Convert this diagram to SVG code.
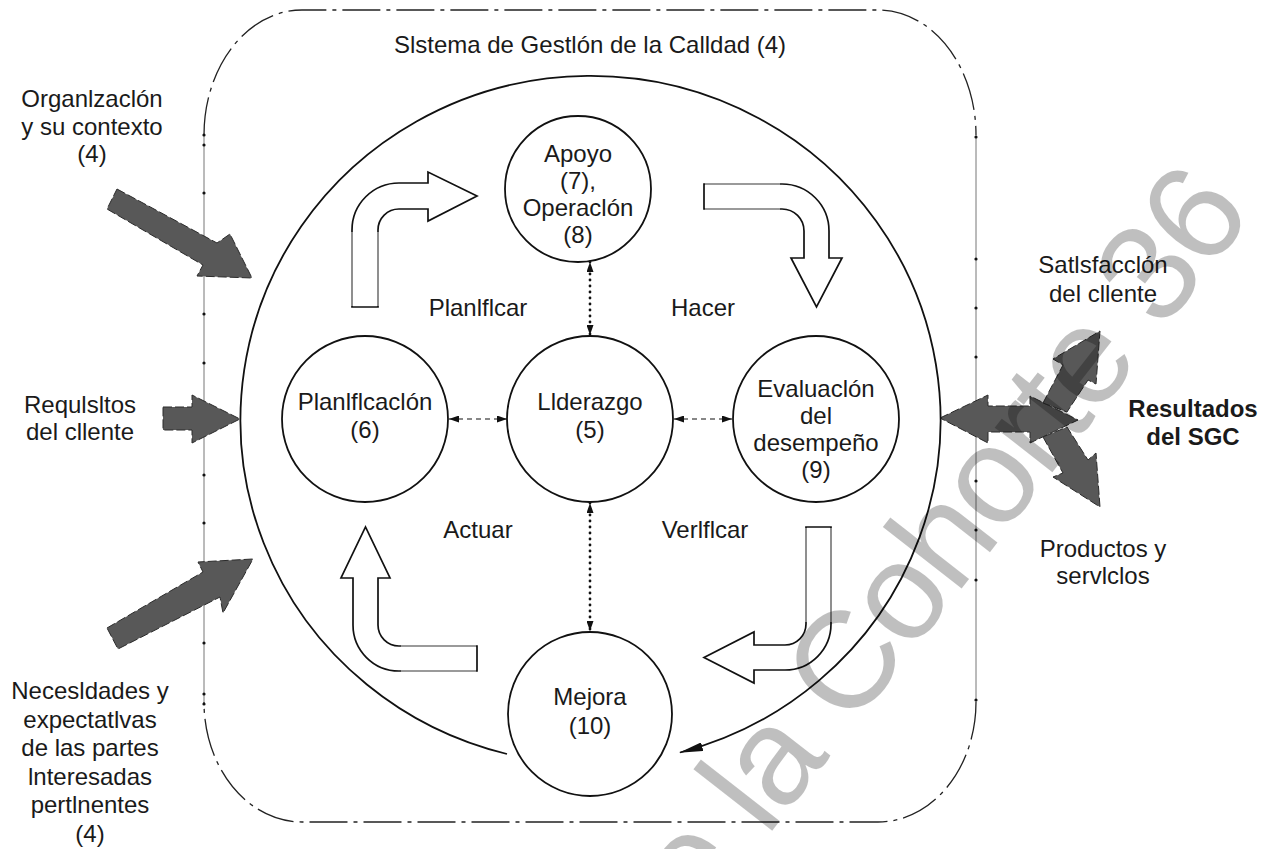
<svg xmlns="http://www.w3.org/2000/svg" width="1275" height="849" viewBox="0 0 1275 849">
<defs>
<style>
.t{font-family:"Liberation Sans",Arial,sans-serif;font-size:24px;fill:#1a1a1a;text-anchor:middle}
.b{font-weight:bold}
.node{fill:none;stroke:#111;stroke-width:1.8}
.frame{fill:none;stroke:#222;stroke-width:1.3;stroke-dasharray:38 6 4 6}
.side{fill:none;stroke:#777;stroke-width:1}
.dot{fill:#111}
.gray{fill:#585858;stroke:#2a2a2a;stroke-width:1;stroke-dasharray:9 3}
.hol{fill:#fff;stroke:#111;stroke-width:1.7;stroke-linejoin:miter}
.tail{stroke:#9a9a9a;stroke-width:1.8;fill:none}
.dash{fill:none;stroke:#111;stroke-width:1.2;stroke-dasharray:5 4}
.dots{fill:none;stroke:#111;stroke-width:2.8;stroke-linecap:round;stroke-dasharray:0 6}
.wm{font-family:"Liberation Sans",Arial,sans-serif;font-size:138px;letter-spacing:-3px;fill:#000;fill-opacity:0.25}
</style>
<marker id="ah" viewBox="0 0 10 7" refX="10" refY="3.5" markerWidth="11" markerHeight="7" markerUnits="userSpaceOnUse" orient="auto-start-reverse">
<path d="M0,0 L10,3.5 L0,7 z" fill="#111"/>
</marker>
<marker id="big" viewBox="0 0 24 9" refX="23" refY="4.5" markerWidth="24" markerHeight="9" markerUnits="userSpaceOnUse" orient="auto">
<path d="M0,0 L24,4.5 L0,9 z" fill="#111"/>
</marker>
</defs>
<rect width="1275" height="849" fill="#fff"/>

<g id="frame">
<path class="frame" d="M204,135 A98,125 0 0 1 302,10 L878,10 A98,125 0 0 1 976,135"/>
<path class="frame" d="M976,702 A98,120 0 0 1 878,822 L302,822 A98,120 0 0 1 204,702"/>
<path class="side" d="M204,135 L204,702 M976,135 L976,702"/>
<g class="dot">
<circle cx="204" cy="135" r="1.6"/><circle cx="204" cy="145" r="1.6"/><circle cx="204" cy="193" r="1.6"/>
<circle cx="204" cy="314" r="1.6"/><circle cx="204" cy="363" r="1.6"/><circle cx="204" cy="475" r="1.6"/>
<circle cx="204" cy="523" r="1.6"/><circle cx="204" cy="643" r="1.6"/><circle cx="204" cy="694" r="1.6"/><circle cx="204" cy="704" r="1.6"/>
<circle cx="976" cy="137" r="1.6"/><circle cx="976" cy="259" r="1.6"/><circle cx="976" cy="308" r="1.6"/>
<circle cx="976" cy="357" r="1.6"/><circle cx="976" cy="481" r="1.6"/><circle cx="976" cy="530" r="1.6"/>
<circle cx="976" cy="580" r="1.6"/><circle cx="976" cy="700" r="1.6"/>
</g>
<text class="t" x="590" y="53">Slstema de Gestlón de la Calldad (4)</text>
</g>

<g id="inputs">
<polygon class="gray" points="117,189 217,243 230,234 252,278 197,276 203,265 107,209"/>
<polygon class="gray" points="163,407 192,407 192,395 240,419 192,443 192,430 163,430"/>
<polygon class="gray" points="107,628 203,572 198,562 253,559 223,613 220,597 118,649"/>
</g>

<g id="outputs">
<polygon class="gray" points="940,418 988,395 988,406 1030,406 1030,396 1078,420 1030,443 1030,432 988,432 988,443"/>
<polygon class="gray" points="1043,403 1063,365 1053,359 1100,331 1096,384 1088,380 1067,412"/>
<polygon class="gray" points="1043,437 1063,473 1053,477 1100,507 1096,453 1088,460 1067,427"/>
</g>

<g id="labels-outside">
<text class="t" x="92" y="107">Organlzaclón</text>
<text class="t" x="92" y="135">y su contexto</text>
<text class="t" x="92" y="162">(4)</text>
<text class="t" x="80" y="413">Requlsltos</text>
<text class="t" x="80" y="440">del cllente</text>
<text class="t" x="90" y="699">Necesldades y</text>
<text class="t" x="90" y="728">expectatlvas</text>
<text class="t" x="90" y="756">de las partes</text>
<text class="t" x="90" y="785">lnteresadas</text>
<text class="t" x="90" y="813">pertlnentes</text>
<text class="t" x="90" y="842">(4)</text>
<text class="t" x="1103" y="273">Satlsfacclón</text>
<text class="t" x="1103" y="302">del cllente</text>
<text class="t b" x="1193" y="417">Resultados</text>
<text class="t b" x="1193" y="445">del SGC</text>
<text class="t" x="1103" y="557">Productos y</text>
<text class="t" x="1103" y="584">servlclos</text>
</g>

<g id="cycle-arrows">
<path class="hol" d="M352,307 L352,230 A47,47 0 0 1 399,183 L428,183 L428,172 L477,196 L428,221 L428,209 L399,209 A21,21 0 0 0 378,230 L378,307 Z"/>
<path class="tail" d="M352,306 L352,232 M378,306 L378,232"/>
<path class="hol" d="M704,184 L782,184 A47,47 0 0 1 829,231 L829,258 L842,258 L816.5,307 L791,258 L804,258 L804,231 A22,22 0 0 0 782,209 L704,209 Z"/>
<path class="tail" d="M705,184 L780,184 M705,209 L780,209"/>
<path class="hol" d="M806,527 L831,527 L831,624 A46,46 0 0 1 785,670 L754,670 L754,683 L704,657.5 L754,632 L754,645 L785,645 A21,21 0 0 0 806,624 Z"/>
<path class="tail" d="M806,528 L806,622 M831,528 L831,622"/>
<path class="hol" d="M477,646 L477,671 L399,671 A46,46 0 0 1 353,625 L353,578 L341,578 L365.5,527 L390,578 L378,578 L378,625 A21,21 0 0 0 399,646 Z"/>
<path class="tail" d="M476,646 L401,646 M476,671 L401,671"/>
</g>

<g id="cycle-labels">
<text class="t" x="478" y="316">Planlflcar</text>
<text class="t" x="703" y="316">Hacer</text>
<text class="t" x="478" y="538">Actuar</text>
<text class="t" x="705" y="538">Verlflcar</text>
</g>

<g id="sgc-circle">
<path class="node" d="M507,754 A350,344 0 1 1 680,752.5" marker-end="url(#big)"/>
</g>

<g id="n-apoyo">
<circle class="node" cx="578" cy="189" r="73"/>
<text class="t" x="578" y="162">Apoyo</text>
<text class="t" x="578" y="189">(7),</text>
<text class="t" x="578" y="216">Operaclón</text>
<text class="t" x="578" y="243">(8)</text>
</g>
<g id="n-planificacion">
<circle class="node" cx="365" cy="419" r="83"/>
<text class="t" x="365" y="410">Planlflcaclón</text>
<text class="t" x="365" y="438">(6)</text>
</g>
<g id="n-liderazgo">
<circle class="node" cx="590" cy="419" r="83"/>
<text class="t" x="590" y="410">Llderazgo</text>
<text class="t" x="590" y="438">(5)</text>
</g>
<g id="n-evaluacion">
<circle class="node" cx="816" cy="419" r="83"/>
<text class="t" x="816" y="397">Evaluaclón</text>
<text class="t" x="816" y="424">del</text>
<text class="t" x="816" y="451">desempeño</text>
<text class="t" x="816" y="478">(9)</text>
</g>
<g id="n-mejora">
<circle class="node" cx="590" cy="714" r="82"/>
<text class="t" x="590" y="705">Mejora</text>
<text class="t" x="590" y="734">(10)</text>
</g>

<g id="connectors">
<path class="dash" d="M449,419 L507,419" marker-start="url(#ah)" marker-end="url(#ah)"/>
<path class="dash" d="M674,419 L732,419" marker-start="url(#ah)" marker-end="url(#ah)"/>
<path class="dots" d="M590,262 L590,335" marker-start="url(#ah)" marker-end="url(#ah)"/>
<path class="dots" d="M590,503 L590,631" marker-start="url(#ah)" marker-end="url(#ah)"/>
</g>

<text class="wm" transform="translate(654,982) rotate(-52)">de la Cohorte 36</text>
</svg>
